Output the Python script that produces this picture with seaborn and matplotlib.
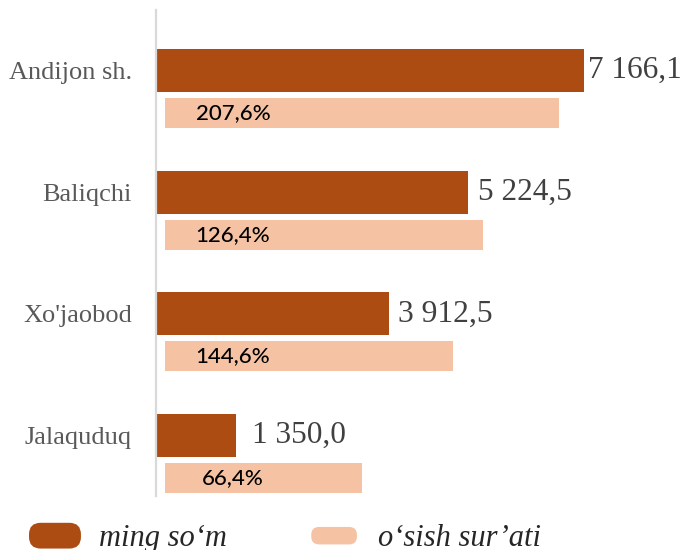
import numpy as np
import pandas as pd
import matplotlib
matplotlib.use("Agg")
import matplotlib.pyplot as plt
import seaborn as sns
from matplotlib.patches import Patch, FancyBboxPatch
from matplotlib.legend_handler import HandlerPatch

# ---- data ----
regions = ["Andijon sh.", "Baliqchi", "Xo'jaobod", "Jalaquduq"]
ming_som = [7166.1, 5224.5, 3912.5, 1350.0]          # ming so'm
growth_pct = [207.6, 126.4, 144.6, 66.4]             # o'sish sur'ati, %
growth_bar = [6600, 5320, 4820, 3300]                # drawn bar lengths (secondary scale)
legend_labels = ["ming so\u2018m", "o\u2018sish sur\u2019ati"]

# ---- style ----
DARK = "#AD4C12"
PEACH = "#F5C3A4"
label_pad_px = [5, 10, 9, 16]
label_size = [22.5, 22.5, 22.8, 22.5]

sns.set_theme(style="white")
plt.rcParams["font.family"] = ["Liberation Serif", "DejaVu Serif"]

pos = np.arange(len(regions), dtype=float)
off = 0.349
df1 = pd.DataFrame({"pos": pos, "val": ming_som})
df2 = pd.DataFrame({"pos": pos + off, "val": growth_bar})

W, H = 682, 550
fig = plt.figure(figsize=(W / 100, H / 100), dpi=100)
left_px, right_px, top_px, bot_px = 155.5, 680, 10, 496
ax = fig.add_axes([left_px / W, (H - bot_px) / H, (right_px - left_px) / W, (bot_px - top_px) / H])
ax2 = ax.twiny()

sns.barplot(data=df1, x="val", y="pos", orient="h", native_scale=True,
            width=0.353, color=DARK, saturation=1, ax=ax, linewidth=0)
sns.barplot(data=df2, x="val", y="pos", orient="h", native_scale=True,
            width=0.247, color=PEACH, saturation=1, ax=ax2, linewidth=0)

scale = 428 / 7166.1  # px per unit
XM = (right_px - left_px) / scale
ax.set_xlim(0, XM)
shift = (165 - left_px) / scale
ax2.set_xlim(-shift, XM - shift)
ax.set_ylim(3.496, -0.497)

# value labels for dark bars
def fmt(v):
    return f"{v:,.1f}".replace(",", " ").replace(".", ",")

for v, p, pad, fs in zip(ming_som, pos, label_pad_px, label_size):
    ax.annotate(fmt(v), xy=(v, p), xytext=(pad * 0.72, 0), textcoords="offset points",
                ha="left", va="center", fontsize=fs, color="#404040",
                family=["Liberation Serif"], annotation_clip=False)

# percentage labels inside peach bars
for p, g in zip(pos + off, growth_pct):
    ax2.annotate(f"{g:.1f}%".replace(".", ","), xy=(0, p), xytext=(68 * 0.72, 0),
                 textcoords="offset points", ha="center", va="center",
                 fontsize=16, fontweight="medium", color="#000000",
                 family=["Lato", "DejaVu Sans"])

# axes styling
ax.set_yticks(pos)
ax.set_yticklabels(regions, fontsize=19, color="#595959")
ax.tick_params(axis="y", length=0, pad=17)
ax.tick_params(axis="x", length=0, labelbottom=False)
ax.set_xlabel("")
ax.set_ylabel("")
for s in ["top", "right", "bottom"]:
    ax.spines[s].set_visible(False)
ax.spines["left"].set_color("#D9D9D9")
ax.spines["left"].set_linewidth(1.6)
for s in ax2.spines.values():
    s.set_visible(False)
ax2.tick_params(axis="x", length=0, labeltop=False, labelbottom=False)
ax2.set_xlabel("")
ax.grid(False)
ax2.grid(False)


class RoundHandler(HandlerPatch):
    def __init__(self, fw, fh, **kw):
        super().__init__(**kw)
        self.fw, self.fh = fw, fh

    def create_artists(self, legend, orig_handle, xdescent, ydescent, width, height, fontsize, trans):
        bw, bh = width * self.fw, height * self.fh
        x0 = -xdescent + (width - bw) / 2
        y0 = -ydescent + (height - bh) / 2
        p = FancyBboxPatch((x0, y0), bw, bh,
                           boxstyle=f"round,pad=0,rounding_size={bh * 0.45}",
                           facecolor=orig_handle.get_facecolor(), edgecolor="none",
                           transform=trans)
        return [p]


h1 = Patch(facecolor=DARK)
h2 = Patch(facecolor=PEACH)
fig.legend([h1, h2], legend_labels, loc="center left",
           bbox_to_anchor=(29 / W, 12 / H), ncol=2, frameon=False,
           handler_map={h1: RoundHandler(1.0, 1.0), h2: RoundHandler(0.88, 0.68)},
           handlelength=1.7, handleheight=0.92, handletextpad=0.6, columnspacing=2.65,
           borderpad=0, borderaxespad=0,
           prop={"family": ["Liberation Serif"], "style": "italic", "size": 22})

fig.savefig("out.png", dpi=100)
